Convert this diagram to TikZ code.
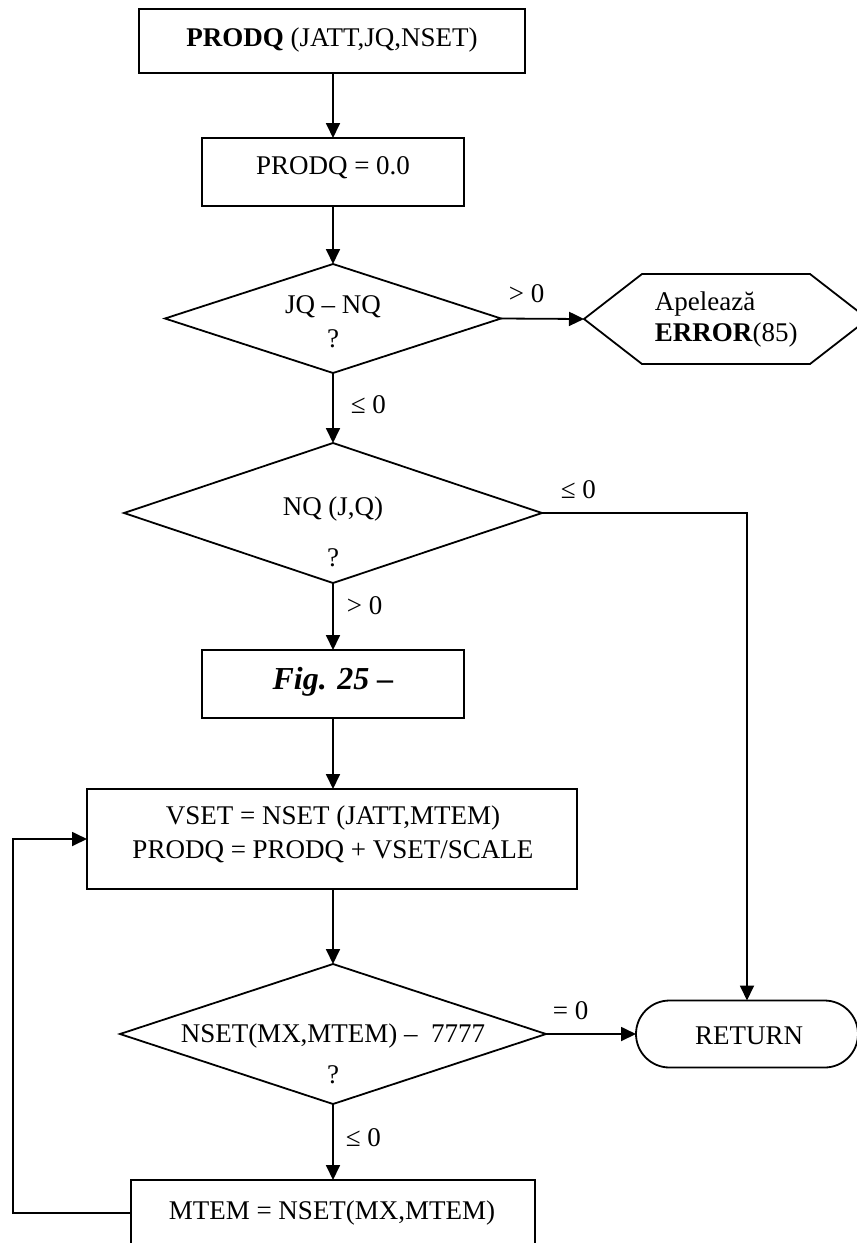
\documentclass[tikz,border=0pt]{standalone}
\usepackage{fontspec}
\setmainfont{Liberation Serif}
\usetikzlibrary{shapes.geometric,shapes.misc,arrows.meta}

\begin{document}
\begin{tikzpicture}[x=1pt,y=-1pt,
  line width=1.8pt,
  every node/.style={font=\fontsize{27}{31}\selectfont},
  flow/.style={-{Triangle[length=15pt,width=14pt]}},
  procbox/.style={draw,rectangle,inner sep=0pt,outer sep=0pt},
  decision/.style={draw,diamond,inner sep=0pt,outer sep=0pt},
  txt/.style={anchor=base,inner sep=0pt},
  lbl/.style={anchor=base west,inner sep=0pt},
  terminal/.style={draw,rounded rectangle,inner sep=0pt,outer sep=0pt}]

\useasboundingbox (0,0) rectangle (857,1243);
\fill[white] (0,0) rectangle (857,1243);
\clip (0,0) rectangle (857,1243);

% --- shapes ---
\node[procbox,minimum width=386pt,minimum height=64pt] (start) at (332,41) {};
\node[procbox,minimum width=262pt,minimum height=68pt] (init) at (333,172) {};
\node[decision,minimum width=336pt,minimum height=109pt] (d1) at (333,318.5) {};
\node[minimum width=284pt,minimum height=90pt,inner sep=0pt,outer sep=0pt] (err) at (726,319) {};
\draw (err.west) -- ++(58,-45) -- ++(168,0) -- (err.east) -- ++(-58,45) -- ++(-168,0) -- cycle;
\node[decision,minimum width=418pt,minimum height=140pt] (d2) at (333,513) {};
\node[procbox,minimum width=262pt,minimum height=68pt] (fig) at (333,684) {};
\node[procbox,minimum width=490pt,minimum height=100pt] (vset) at (332,839) {};
\node[decision,minimum width=426pt,minimum height=140pt] (d3) at (333,1034) {};
\node[terminal,minimum width=222pt,minimum height=67pt] (ret) at (747,1034) {};
\node[procbox,minimum width=404pt,minimum height=66pt] (mtem) at (333,1213) {};
\coordinate (loopbot) at (13,1213);
\coordinate (looptop) at (13,839);

% --- texts ---
\node[txt] (tstart) at (332,46) {\textbf{PRODQ} (JATT,JQ,NSET)};
\node[txt] (tinit) at (333,174) {PRODQ = 0.0};
\node[txt] (td1a) at (333,313) {JQ – NQ};
\node[txt] (td1b) at (333,347) {?};
\node[lbl] (terra) at (654,310) {Apelează};
\node[lbl] (terrb) at (654,341) {\textbf{ERROR}(85)};
\node[txt] (td2a) at (333,515) {NQ (J,Q)};
\node[txt] (td2b) at (333,566) {?};
\node[txt,font=\fontsize{32}{36}\selectfont\bfseries\itshape] (tfig) at (333,689) {Fig. 25 –};
\node[txt] (tvseta) at (333,824) {VSET = NSET (JATT,MTEM)};
\node[txt] (tvsetb) at (333,858) {PRODQ = PRODQ + VSET/SCALE};
\node[txt] (td3a) at (333,1042) {NSET(MX,MTEM) –\ \ 7777};
\node[txt] (td3b) at (333,1083) {?};
\node[txt] (tret) at (749,1044) {RETURN};
\node[txt] (tmtem) at (332,1219) {MTEM = NSET(MX,MTEM)};

% --- branch labels ---
\node[lbl] (l1) at (508,302) {> 0};
\node[lbl] (l2) at (350,413) {≤ 0};
\node[lbl] (l3) at (560,498) {≤ 0};
\node[lbl] (l4) at (346,614) {> 0};
\node[lbl] (l5) at (552,1019) {= 0};
\node[lbl] (l6) at (345,1146) {≤ 0};

% --- connectors ---
\draw[flow] (start.south -| init.north) -- (init.north);
\draw[flow] (init) -- (d1.north);
\draw[flow] (d1.east) -- (err.west);
\draw[flow] (d1.south) -- (d2.north);
\draw[flow] (d2.east) -| (ret.north);
\draw[flow] (d2.south) -- (fig.north);
\draw[flow] (fig.south) -- (fig.south |- vset.north);
\draw[flow] (d3.north |- vset.south) -- (d3.north);
\draw[flow] (d3.east) -- (ret.west);
\draw[flow] (d3.south) -- (mtem.north);
\draw[flow] (mtem.west) -- (loopbot) -- (looptop) -- (vset.west);
\end{tikzpicture}
\end{document}
